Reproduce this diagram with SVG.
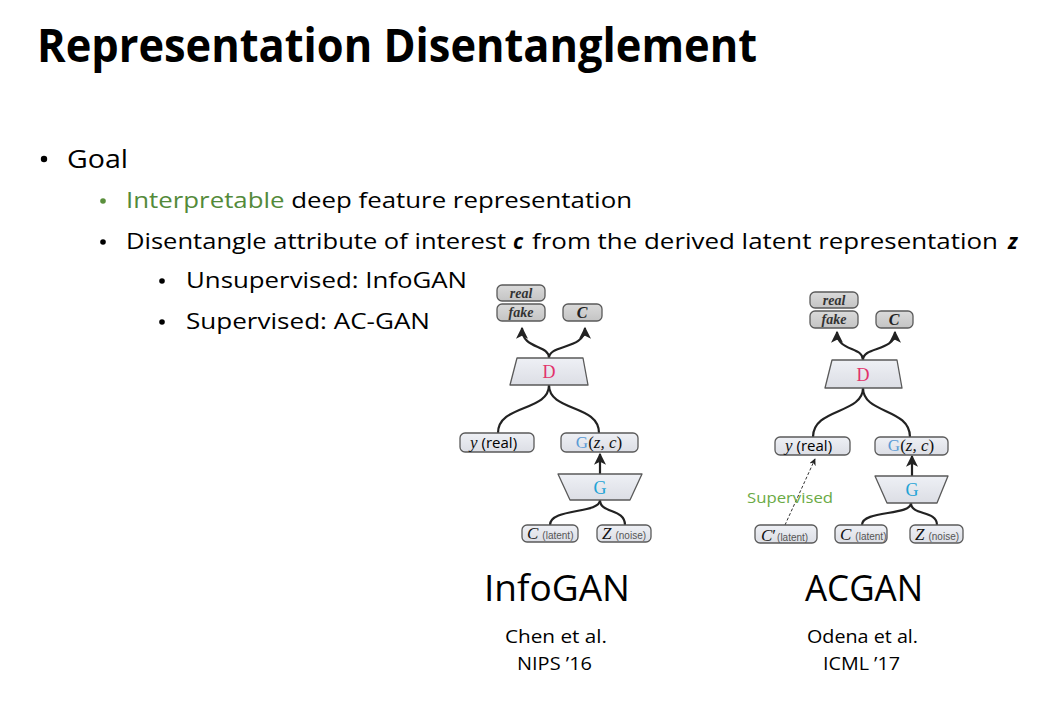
<svg xmlns="http://www.w3.org/2000/svg" width="1063" height="707" viewBox="0 0 1063 707">
<defs>
<marker id="ah" viewBox="0 0 10 10" refX="9" refY="5" markerWidth="13" markerHeight="12" markerUnits="userSpaceOnUse" orient="auto">
<path d="M0,0 L10,5 L0,10 L2.5,5 Z" fill="#222"/>
</marker>
<marker id="ahs" viewBox="0 0 10 10" refX="9" refY="5" markerWidth="7" markerHeight="7" markerUnits="userSpaceOnUse" orient="auto">
<path d="M0,0 L10,5 L0,10 L3,5 Z" fill="#222"/>
</marker>
<linearGradient id="boxg" x1="0" y1="0" x2="0" y2="1">
<stop offset="0" stop-color="#eef0f5"/><stop offset="1" stop-color="#dcdee5"/>
</linearGradient>
<linearGradient id="outg" x1="0" y1="0" x2="0" y2="1">
<stop offset="0" stop-color="#dadada"/><stop offset="1" stop-color="#c4c4c4"/>
</linearGradient>
</defs>
<style>
.sans{font-family:"Open Sans","Noto Sans","Liberation Sans",sans-serif;fill:#000}
.title{font-size:46px;font-weight:bold}
.l1{font-size:25px}
.l2{font-size:21px}
.box{fill:url(#boxg);stroke:#5a5a5a;stroke-width:1.3}
.obox{fill:url(#outg);stroke:#5a5a5a;stroke-width:1.3}
.trap{fill:url(#boxg);stroke:#5a5a5a;stroke-width:1.3;stroke-linejoin:round}
.serif{font-family:"Liberation Serif","DejaVu Serif",serif}
.oit{font-size:14px;font-style:italic;font-weight:bold;fill:#333}
.var{font-size:17px;font-style:italic;fill:#111}
.small{font-family:"Liberation Sans",sans-serif;font-size:10px;fill:#555}
.conn{fill:none;stroke:#222;stroke-width:2.2}
.big{font-size:37px}
.cite{font-size:18px}
</style>
<rect width="1063" height="707" fill="#fff"/>

<g id="text">
<text class="sans title" x="37" y="62" textLength="720" lengthAdjust="spacingAndGlyphs">Representation Disentanglement</text>
<circle cx="44" cy="159" r="3.2" fill="#000"/>
<text class="sans l1" x="67" y="168" textLength="61" lengthAdjust="spacingAndGlyphs">Goal</text>
<circle cx="103" cy="201" r="2.8" fill="#5a8f3c"/>
<text class="sans l2" x="126" y="208" textLength="506" lengthAdjust="spacingAndGlyphs"><tspan fill="#538a3a">Interpretable</tspan> deep feature representation</text>
<circle cx="103" cy="242" r="2.8" fill="#000"/>
<text class="sans l2" x="126" y="249" textLength="380" lengthAdjust="spacingAndGlyphs">Disentangle attribute of interest</text>
<text class="sans l2" x="513" y="249" font-weight="bold" font-style="italic">c</text>
<text class="sans l2" x="532" y="249" textLength="466" lengthAdjust="spacingAndGlyphs">from the derived latent representation</text>
<text class="sans l2" x="1008" y="249" font-weight="bold" font-style="italic">z</text>
<circle cx="162" cy="281" r="2.8" fill="#000"/>
<text class="sans l2" x="186" y="288" textLength="281" lengthAdjust="spacingAndGlyphs">Unsupervised: InfoGAN</text>
<circle cx="162" cy="322" r="2.8" fill="#000"/>
<text class="sans l2" x="186" y="329" textLength="244" lengthAdjust="spacingAndGlyphs">Supervised: AC-GAN</text>

<text class="sans big" x="484" y="601" textLength="146" lengthAdjust="spacingAndGlyphs">InfoGAN</text>
<text class="sans cite" x="505" y="643" textLength="102" lengthAdjust="spacingAndGlyphs">Chen et al.</text>
<text class="sans cite" x="517" y="670" textLength="75" lengthAdjust="spacingAndGlyphs">NIPS ’16</text>
<text class="sans big" x="805" y="601" textLength="118" lengthAdjust="spacingAndGlyphs">ACGAN</text>
<text class="sans cite" x="807" y="643" textLength="111" lengthAdjust="spacingAndGlyphs">Odena et al.</text>
<text class="sans cite" x="823" y="670" textLength="77" lengthAdjust="spacingAndGlyphs">ICML ’17</text>
</g>

<g id="connectors">
<!-- InfoGAN -->
<path class="conn" d="M549,358 C549,344 522,350 522,328" marker-end="url(#ah)"/>
<path class="conn" d="M549,358 C549,344 585,350 585,328" marker-end="url(#ah)"/>
<path class="conn" d="M549,385 C549,412 498,404 498,433"/>
<path class="conn" d="M549,385 C549,412 599,404 599,433"/>
<path class="conn" d="M600,474 L600,454" marker-end="url(#ah)"/>
<path class="conn" d="M600,500 C600,514 550,508 550,525"/>
<path class="conn" d="M600,500 C600,514 625,508 625,525"/>
<!-- ACGAN -->
<path class="conn" d="M863,360 C863,346 837,352 837,332" marker-end="url(#ah)"/>
<path class="conn" d="M863,360 C863,346 895,352 895,332" marker-end="url(#ah)"/>
<path class="conn" d="M863,388 C863,414 813,408 813,437"/>
<path class="conn" d="M863,388 C863,414 910,408 910,437"/>
<path class="conn" d="M912,476 L912,456" marker-end="url(#ah)"/>
<path class="conn" d="M911,503 C911,516 862,510 862,525"/>
<path class="conn" d="M911,503 C911,516 937,510 937,525"/>
<path d="M785,525 L815,459" fill="none" stroke="#333" stroke-width="1" stroke-dasharray="3,2" marker-end="url(#ahs)"/>
<text x="747" y="503" font-family="Open Sans,Noto Sans,sans-serif" font-size="15" fill="#6aaa45" textLength="86" lengthAdjust="spacingAndGlyphs">Supervised</text>
</g>

<!-- InfoGAN nodes -->
<g id="info-real">
<rect class="obox" x="497" y="285" width="48" height="16" rx="5"/>
<text class="serif oit" x="521" y="298" text-anchor="middle">real</text>
</g>
<g id="info-fake">
<rect class="obox" x="497" y="304" width="48" height="17" rx="5"/>
<text class="serif oit" x="521" y="317" text-anchor="middle">fake</text>
</g>
<g id="info-c-out">
<rect class="obox" x="563" y="304" width="39" height="17" rx="5"/>
<text class="serif" x="582" y="318" text-anchor="middle" font-size="16" font-style="italic" font-weight="bold" fill="#222">C</text>
</g>
<g id="info-D">
<path class="trap" d="M517,358 L583,358 L588,385 L510,385 Z"/>
<text class="serif" x="549" y="378" text-anchor="middle" font-size="18" fill="#e2336b">D</text>
</g>
<g id="info-y">
<rect class="box" x="460" y="433" width="74" height="19" rx="5"/>
<text x="470" y="448"><tspan class="serif var">y</tspan><tspan font-family="Open Sans,sans-serif" font-size="15" dx="4">(real)</tspan></text>
</g>
<g id="info-Gzc">
<rect class="box" x="561" y="433" width="77" height="19" rx="5"/>
<text x="599" y="448" text-anchor="middle" class="serif" font-size="17"><tspan fill="#5b9bd5">G</tspan><tspan fill="#111">(</tspan><tspan font-style="italic" fill="#111">z, c</tspan><tspan fill="#111">)</tspan></text>
</g>
<g id="info-G">
<path class="trap" d="M558,474 L642,474 L630,500 L570,500 Z"/>
<text class="serif" x="600" y="494" text-anchor="middle" font-size="18" fill="#1fa3d6">G</text>
</g>
<g id="info-c">
<rect class="box" x="522" y="525" width="56" height="17" rx="5"/>
<text x="527" y="539"><tspan class="serif var" font-size="16">C</tspan><tspan class="small" dx="4">(latent)</tspan></text>
</g>
<g id="info-z">
<rect class="box" x="597" y="525" width="54" height="17" rx="5"/>
<text x="602" y="539"><tspan class="serif var" font-size="16">Z</tspan><tspan class="small" dx="4">(noise)</tspan></text>
</g>

<!-- ACGAN nodes -->
<g id="ac-real">
<rect class="obox" x="810" y="292" width="48" height="16" rx="5"/>
<text class="serif oit" x="834" y="305" text-anchor="middle">real</text>
</g>
<g id="ac-fake">
<rect class="obox" x="810" y="311" width="48" height="17" rx="5"/>
<text class="serif oit" x="834" y="324" text-anchor="middle">fake</text>
</g>
<g id="ac-c-out">
<rect class="obox" x="876" y="311" width="37" height="17" rx="5"/>
<text class="serif" x="894" y="325" text-anchor="middle" font-size="16" font-style="italic" font-weight="bold" fill="#222">C</text>
</g>
<g id="ac-D">
<path class="trap" d="M832,360 L897,360 L902,388 L825,388 Z"/>
<text class="serif" x="863" y="381" text-anchor="middle" font-size="18" fill="#e2336b">D</text>
</g>
<g id="ac-y">
<rect class="box" x="775" y="437" width="75" height="18" rx="5"/>
<text x="785" y="451"><tspan class="serif var">y</tspan><tspan font-family="Open Sans,sans-serif" font-size="15" dx="4">(real)</tspan></text>
</g>
<g id="ac-Gzc">
<rect class="box" x="875" y="437" width="73" height="18" rx="5"/>
<text x="911" y="451" text-anchor="middle" class="serif" font-size="17"><tspan fill="#5b9bd5">G</tspan><tspan fill="#111">(</tspan><tspan font-style="italic" fill="#111">z, c</tspan><tspan fill="#111">)</tspan></text>
</g>
<g id="ac-G">
<path class="trap" d="M875,476 L948,476 L937,503 L887,503 Z"/>
<text class="serif" x="912" y="496" text-anchor="middle" font-size="18" fill="#1fa3d6">G</text>
</g>
<g id="ac-cprime">
<rect class="box" x="755" y="525" width="62" height="18" rx="5"/>
<text x="761" y="541"><tspan class="serif var" font-size="18">C</tspan><tspan font-family="Liberation Serif,serif" font-size="17" fill="#111">′</tspan><tspan class="small" dx="1">(latent)</tspan></text>
</g>
<g id="ac-c">
<rect class="box" x="835" y="525" width="52" height="18" rx="5"/>
<text x="840" y="540"><tspan class="serif var" font-size="16">C</tspan><tspan class="small" dx="4">(latent)</tspan></text>
</g>
<g id="ac-z">
<rect class="box" x="910" y="525" width="53" height="18" rx="5"/>
<text x="915" y="540"><tspan class="serif var" font-size="16">Z</tspan><tspan class="small" dx="4">(noise)</tspan></text>
</g>
</svg>
